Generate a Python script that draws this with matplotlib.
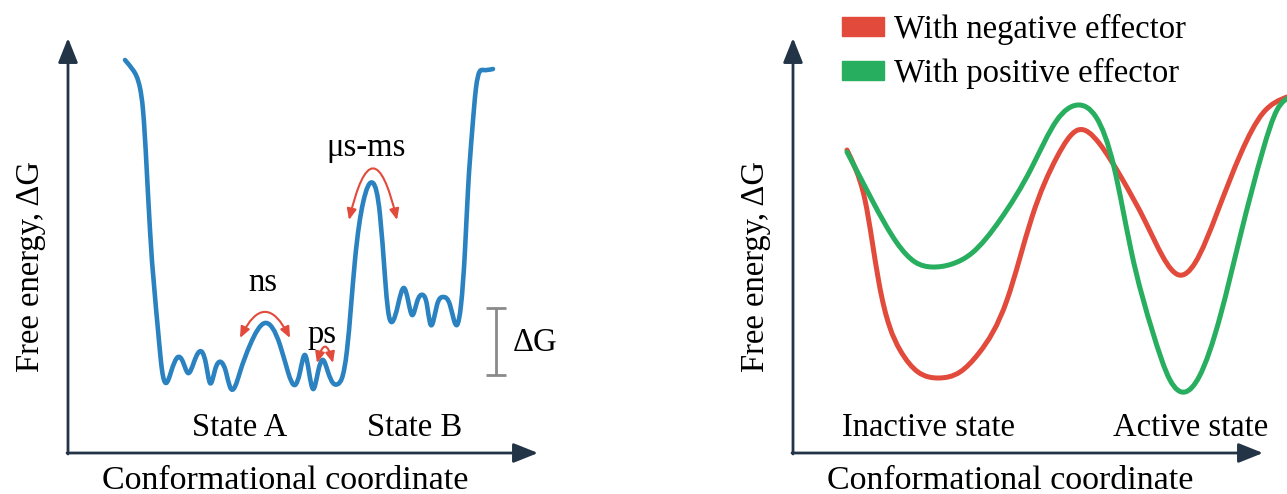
import numpy as np
import matplotlib
matplotlib.use('Agg')
import matplotlib.pyplot as plt
import matplotlib.patches as mpatches
from matplotlib.path import Path

plt.rcParams['font.family'] = ['Liberation Serif', 'DejaVu Serif']

# left panel: energy landscape with two states (x = coordinate, y = free energy)
landscape_x = [57, 65, 72, 75, 82, 90, 94, 98, 103, 110, 115, 120, 126, 134, 138, 142,
               147, 153, 158, 162, 172, 182, 197, 212, 220, 227, 232, 237, 241, 245,
               250, 255, 260, 265, 270, 274, 279, 287, 295, 305, 312, 317, 320, 324,
               330, 336, 340, 344, 349, 355, 359, 362, 369, 375, 382, 389, 393, 397,
               400, 404, 408, 415, 425]
landscape_y = [393, 383, 365, 343, 223, 123, 83, 70, 81, 96, 91, 80, 91, 101, 89, 70,
               83, 91, 81, 66, 81, 108, 130, 108, 81, 68, 81, 98, 81, 64,
               81, 93, 81, 70, 69, 75, 103, 193, 250, 270, 238, 176, 143, 131,
               148, 165, 153, 138, 151, 158, 148, 130, 148, 156, 148, 128, 148, 203,
               263, 320, 365, 383, 384]

# right panel: two effector curves
neg_x = [54, 63, 72, 86, 107, 125, 146, 167, 186, 214, 239, 264, 285, 306, 328, 353,
         370, 386, 402, 424, 448, 470, 494]
neg_y = [303, 283, 253, 170, 103, 81, 75, 81, 100, 153, 236, 296, 323, 310, 276, 230,
         196, 178, 190, 240, 300, 340, 356]
pos_x = [54, 66, 79, 104, 122, 139, 159, 179, 207, 239, 264, 285, 303, 321, 338, 360,
         377, 392, 406, 427, 448, 470, 484, 499]
pos_y = [301, 278, 253, 210, 191, 186, 189, 200, 233, 286, 333, 348, 336, 286, 203, 120,
         73, 61, 76, 136, 220, 303, 343, 357]

navy = '#233447'
blue = '#2a82c0'
red = '#e24a3b'
green = '#27ae5f'
grey = '#8a8a8a'
fs = 23.5


def spline_slopes(x, y):
    # natural cubic spline
    n = len(x)
    h = np.diff(x)
    d = np.diff(y) / h
    A = np.zeros((n, n))
    b = np.zeros(n)
    A[0, 0] = A[-1, -1] = 1
    for i in range(1, n - 1):
        A[i, i - 1] = h[i - 1]
        A[i, i] = 2 * (h[i - 1] + h[i])
        A[i, i + 1] = h[i]
        b[i] = 6 * (d[i] - d[i - 1])
    M = np.linalg.solve(A, b)
    m = np.empty(n)
    m[:-1] = d - h * (2 * M[:-1] + M[1:]) / 6
    m[-1] = d[-1] + h[-1] * (M[-2] + 2 * M[-1]) / 6
    return m


def smooth_path(xs, ys):
    x = np.asarray(xs, float)
    y = np.asarray(ys, float)
    h = np.diff(x)
    m = spline_slopes(x, y)
    verts = [(x[0], y[0])]
    codes = [Path.MOVETO]
    for i in range(len(x) - 1):
        verts += [(x[i] + h[i] / 3, y[i] + m[i] * h[i] / 3),
                  (x[i + 1] - h[i] / 3, y[i + 1] - m[i + 1] * h[i] / 3),
                  (x[i + 1], y[i + 1])]
        codes += [Path.CURVE4] * 3
    return Path(verts, codes)


def draw_curve(ax, xs, ys, color, lw):
    ax.add_patch(mpatches.PathPatch(smooth_path(xs, ys), fill=False,
                                    edgecolor=color, lw=lw, capstyle='round',
                                    joinstyle='round', clip_on=False))


def draw_axes(ax):
    ax.set_xlim(0, 470)
    ax.set_ylim(0, 415)
    ax.axis('off')
    head = dict(arrowstyle='-|>,head_length=1.5,head_width=0.6', color=navy, lw=2,
                shrinkA=0, shrinkB=0)
    ax.annotate('', xy=(470, 0), xytext=(-1, 0), arrowprops=head, annotation_clip=False)
    ax.annotate('', xy=(0, 415), xytext=(0, -1), arrowprops=head, annotation_clip=False)
    ax.text(217, -28, 'Conformational coordinate', fontsize=24.5, ha='center', va='center')
    ax.text(-37, 186, 'Free energy, ΔG', fontsize=fs, rotation=90, ha='center', va='center')


def red_arc(ax, x0, x1, y, rad):
    ax.annotate('', xy=(x1, y), xytext=(x0, y),
                arrowprops=dict(arrowstyle='<|-|>,head_length=0.65,head_width=0.28',
                                color=red, lw=1.5, shrinkA=0, shrinkB=0,
                                connectionstyle='arc3,rad=%s' % rad))


fig = plt.figure(figsize=(12.87, 4.94), dpi=100)

ax1 = fig.add_axes([68 / 1287, 41 / 494, 470 / 1287, 415 / 494])
draw_axes(ax1)
draw_curve(ax1, landscape_x, landscape_y, blue, 3.3)
red_arc(ax1, 172, 222, 115, -1.0)
red_arc(ax1, 249, 265, 90, -1.9)
red_arc(ax1, 281, 329, 233, -2.1)
ax1.text(195, 170, 'ns', fontsize=fs, ha='center', va='center')
ax1.text(254, 118, 'ps', fontsize=fs, ha='center', va='center')
ax1.text(298, 305, 'μs-ms', fontsize=fs, ha='center', va='center')
ax1.text(172, 25, 'State A', fontsize=fs, ha='center', va='center')
ax1.text(347, 25, 'State B', fontsize=fs, ha='center', va='center')
ax1.errorbar([428], [111.5], yerr=[33.5], color=grey, lw=2, capsize=7, capthick=2)
ax1.text(467, 110, 'ΔG', fontsize=fs, ha='center', va='center')

ax2 = fig.add_axes([793 / 1287, 41 / 494, 470 / 1287, 415 / 494])
draw_axes(ax2)
draw_curve(ax2, neg_x, neg_y, red, 3.6)
draw_curve(ax2, pos_x, pos_y, green, 3.6)
ax2.text(136, 25, 'Inactive state', fontsize=fs, ha='center', va='center')
ax2.text(398, 25, 'Active state', fontsize=fs, ha='center', va='center')

handles = [mpatches.Patch(color=red, label='With negative effector'),
           mpatches.Patch(color=green, label='With positive effector')]
fig.legend(handles=handles, loc='upper left', bbox_to_anchor=(842 / 1287, 1 - 14 / 494),
           frameon=False, fontsize=fs, handlelength=1.3, handleheight=0.5,
           handletextpad=0.3, labelspacing=0.4, borderpad=0, borderaxespad=0)

fig.savefig('out.png', dpi=100)
